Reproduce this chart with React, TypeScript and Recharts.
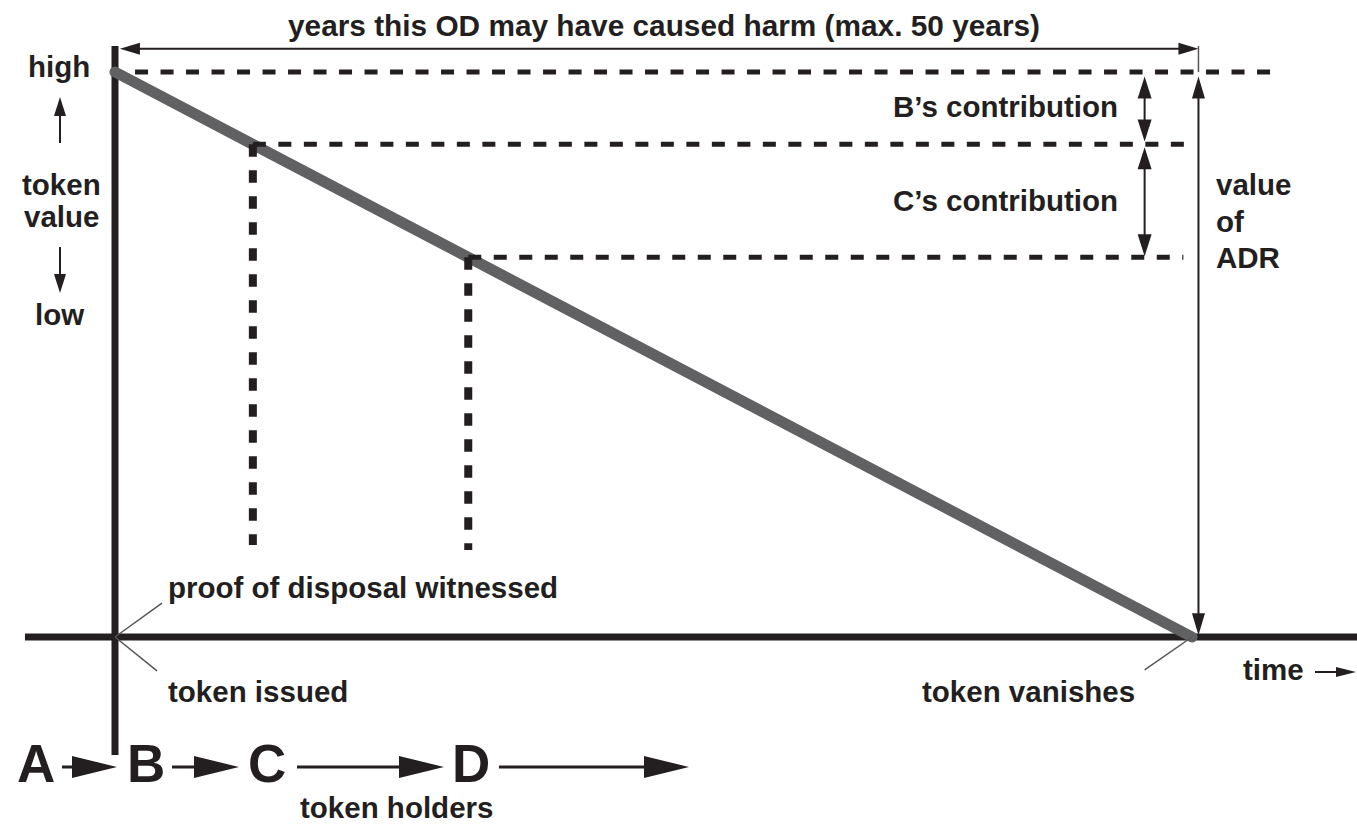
import { ComposedChart, Line, XAxis, YAxis, ReferenceLine } from "recharts"

// token value over its lifetime (years after issue -> value, %)
const years = [0, 50]
const tokenValue = [100, 0]

// hand-over points along the decay line (B -> C, C -> D)
const handoverYear = [6.4, 16.4]
const handoverValue = [87.2, 67.2]
const witnessBottom = [16.3, 15.4]

// annotation anchors, in chart units
const adrYear = 50.3
const contribYear = 47.8
const spanValue = 104.1
const xAxisExtent = [-4.18, 57.7]
const yAxisExtent = [-20.9, 104.6]

const holders = ["A", "B", "C", "D"]

const ink = "#231f20"
const grey = "#616163"
const font = "'Liberation Sans', Arial, Helvetica, sans-serif"

const W = 1357
const H = 824

const decay = years.map((t, i) => ({ t, v: tokenValue[i] }))
const hAxis = xAxisExtent.map((t) => ({ t, v: 0 }))
const vAxis = yAxisExtent.map((v) => ({ t: 0, v }))

function head(tx: number, ty: number, ux: number, uy: number, len: number, half: number, key: string) {
  const bx = tx - ux * len
  const by = ty - uy * len
  const nx = -uy
  const ny = ux
  return (
    <polygon
      key={key}
      points={`${tx},${ty} ${bx + nx * half},${by + ny * half} ${bx - nx * half},${by - ny * half}`}
      fill={ink}
    />
  )
}

function arrowPath(x1: number, y1: number, x2: number, y2: number, start: boolean, end: boolean, len: number, half: number, w: number) {
  const dx = x2 - x1
  const dy = y2 - y1
  const L = Math.hypot(dx, dy) || 1
  const ux = dx / L
  const uy = dy / L
  return (
    <g>
      <line
        x1={start ? x1 + ux * len * 0.8 : x1}
        y1={start ? y1 + uy * len * 0.8 : y1}
        x2={end ? x2 - ux * len * 0.8 : x2}
        y2={end ? y2 - uy * len * 0.8 : y2}
        stroke={ink}
        strokeWidth={w}
      />
      {start && head(x1, y1, -ux, -uy, len, half, "s")}
      {end && head(x2, y2, ux, uy, len, half, "e")}
    </g>
  )
}

const arrowShape = (start: boolean, end: boolean, len = 21, half = 6.5, w = 2) => (p: any) =>
  arrowPath(Number(p.x1), Number(p.y1), Number(p.x2), Number(p.y2), start, end, len, half, w)

const txt = (x: number, y: number, s: string, size = 29.5, anchor: "start" | "middle" = "start") => (
  <text x={x} y={y} fontFamily={font} fontWeight="bold" fontSize={size} fill={ink} textAnchor={anchor}>
    {s}
  </text>
)

function Overlay() {
  const holderX = [17, 127, 248, 452]
  return (
    <svg width={W} height={H} style={{ position: "absolute", left: 0, top: 0, pointerEvents: "none" }}>
      {txt(664, 36, "years this OD may have caused harm (max. 50 years)", 29.8, "middle")}
      {txt(28, 77, "high")}
      {arrowPath(60, 143, 60, 97, false, true, 19, 6, 2)}
      {txt(22, 195, "token")}
      {txt(24, 227, "value")}
      {arrowPath(60, 247, 60, 293, false, true, 19, 6, 2)}
      {txt(35, 325, "low")}

      {txt(893, 117, "B\u2019s contribution", 29.5)}
      {txt(893, 211, "C\u2019s contribution", 29.5)}

      {txt(1216, 195, "value")}
      {txt(1216, 232, "of")}
      {txt(1216, 268, "ADR")}

      {txt(168, 598, "proof of disposal witnessed")}
      {txt(168, 702, "token issued")}
      {txt(922, 702, "token vanishes")}
      {txt(1243, 680, "time")}
      {arrowPath(1315, 672, 1356, 672, false, true, 20, 5, 2)}

      {holders.map((h, i) => (
        <text key={h} x={holderX[i]} y={782} fontFamily={font} fontWeight="bold" fontSize={53} fill={ink}>
          {h}
        </text>
      ))}
      {arrowPath(62, 767, 117, 767, false, true, 45, 11, 3)}
      {arrowPath(172, 767, 239, 767, false, true, 45, 11, 3)}
      {arrowPath(297, 767, 444, 767, false, true, 45, 11, 3)}
      {arrowPath(499, 767, 689, 767, false, true, 45, 11, 3)}
      {txt(300, 818, "token holders")}
    </svg>
  )
}

export default function App() {
  // pixel mapping: year 0 at x=115, 21.54px/year; value 0 at y=637, 5.65px/unit
  const xDomain = [-115 / 21.54, (W - 115) / 21.54]
  const yDomain = [(637 - H) / 5.65, 637 / 5.65]

  return (
    <div style={{ position: "absolute", left: 0, top: 0, width: W, height: H, background: "#fff" }}>
      <ComposedChart width={W} height={H} data={decay} margin={{ top: 0, right: 0, bottom: 0, left: 0 }}>
        <XAxis type="number" dataKey="t" domain={xDomain} allowDataOverflow hide />
        <YAxis type="number" domain={yDomain} allowDataOverflow hide />

        <Line data={hAxis} dataKey="v" type="linear" stroke={ink} strokeWidth={7} dot={false} activeDot={false} isAnimationActive={false} />
        <Line data={vAxis} dataKey="v" type="linear" stroke={ink} strokeWidth={7} dot={false} activeDot={false} isAnimationActive={false} />
        <Line dataKey="v" type="linear" stroke={grey} strokeWidth={11} strokeLinecap="round" dot={false} activeDot={false} isAnimationActive={false} />

        {/* dashed value levels */}
        <ReferenceLine ifOverflow="visible" segment={[{ x: 0.93, y: tokenValue[0] }, { x: 54.1, y: tokenValue[0] }]} stroke={ink} strokeWidth={5} strokeDasharray="13 12.5" />
        {handoverYear.map((t, i) => (
          <ReferenceLine key={"h" + i} ifOverflow="visible" segment={[{ x: t, y: handoverValue[i] }, { x: i === 0 ? 49.9 : 49.6, y: handoverValue[i] }]} stroke={ink} strokeWidth={5} strokeDasharray="13 12.5" />
        ))}
        {handoverYear.map((t, i) => (
          <ReferenceLine key={"v" + i} ifOverflow="visible" segment={[{ x: t, y: handoverValue[i] }, { x: t, y: witnessBottom[i] }]} stroke={ink} strokeWidth={8} strokeDasharray="12.5 13.5" />
        ))}

        {/* span of harm */}
        <ReferenceLine ifOverflow="visible" segment={[{ x: 0.23, y: spanValue }, { x: adrYear, y: spanValue }]} shape={arrowShape(true, true, 20, 6, 2)} />
        <ReferenceLine ifOverflow="visible" segment={[{ x: adrYear, y: yAxisExtent[1] }, { x: adrYear, y: tokenValue[0] }]} stroke="#555" strokeWidth={1.5} />

        {/* value of ADR */}
        <ReferenceLine ifOverflow="visible" segment={[{ x: adrYear, y: 99.2 }, { x: adrYear, y: 0.3 }]} shape={arrowShape(true, true, 22, 6.5, 2)} />

        {/* contributions */}
        <ReferenceLine ifOverflow="visible" segment={[{ x: contribYear, y: 99.2 }, { x: contribYear, y: 87.7 }]} shape={arrowShape(true, true, 22, 7, 2)} />
        <ReferenceLine ifOverflow="visible" segment={[{ x: contribYear, y: 86.7 }, { x: contribYear, y: 67.4 }]} shape={arrowShape(true, true, 22, 7, 2)} />

        {/* leaders */}
        <ReferenceLine ifOverflow="visible" segment={[{ x: 0, y: 0 }, { x: 2.18, y: 6.0 }]} stroke="#555" strokeWidth={1.5} />
        <ReferenceLine ifOverflow="visible" segment={[{ x: 0, y: 0 }, { x: 1.95, y: -6.0 }]} stroke="#555" strokeWidth={1.5} />
        <ReferenceLine ifOverflow="visible" segment={[{ x: 50, y: 0 }, { x: 47.8, y: -5.8 }]} stroke="#555" strokeWidth={1.5} />
      </ComposedChart>
      <Overlay />
    </div>
  )
}
